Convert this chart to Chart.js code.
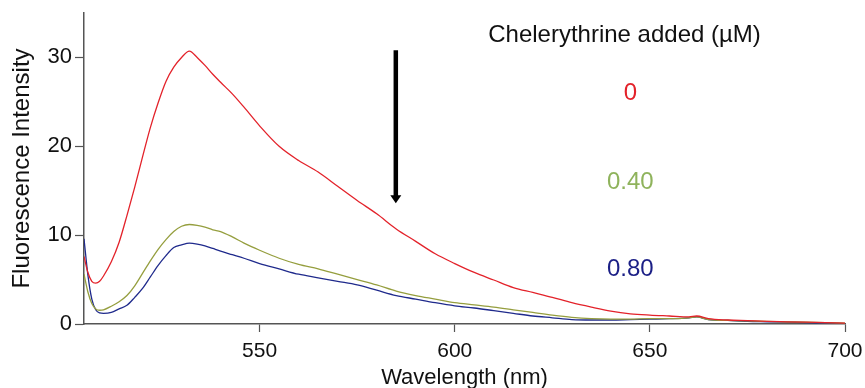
<!DOCTYPE html>
<html>
<head>
<meta charset="utf-8">
<script src="https://cdn.jsdelivr.net/npm/chart.js@4/dist/chart.umd.min.js"></script>
<style>
  html, body { margin: 0; padding: 0; background: #ffffff; }
  #c { display: block; }
</style>
</head>
<body>
<canvas id="c" width="865" height="388"></canvas>
<script>
// ---- data ----
const wavelengths = [505,506,507,508,509,510,512,514,516,518,520,522,524,526,528,530,532,534,536,538,540,543,546,550,555,560,565,570,575,580,585,590,595,600,605,610,615,620,625,630,635,640,645,650,655,660,662,665,670,675,680,685,690,695,700];
const conc0   = [7.6,5.8,4.8,4.6,4.8,5.4,7.0,9.2,12.2,15.4,18.8,22.1,24.9,27.3,28.9,30.0,30.7,30.0,29.1,28.1,27.2,25.9,24.4,22.3,20.0,18.4,17.1,15.5,13.9,12.4,10.7,9.3,7.9,6.8,5.8,4.95,4.1,3.55,3.0,2.4,1.9,1.45,1.15,1.0,0.9,0.8,0.9,0.6,0.45,0.38,0.3,0.25,0.2,0.15,0.1];
const conc040 = [5.6,3.6,2.3,1.7,1.55,1.6,2.0,2.5,3.2,4.3,5.7,7.1,8.4,9.5,10.4,11.0,11.2,11.1,10.9,10.6,10.4,9.8,9.1,8.3,7.4,6.7,6.2,5.6,5.0,4.4,3.7,3.2,2.8,2.4,2.15,1.9,1.6,1.3,1.0,0.75,0.6,0.55,0.55,0.6,0.6,0.7,0.8,0.5,0.4,0.35,0.3,0.25,0.2,0.15,0.1];
const conc080 = [9.6,5.5,2.8,1.6,1.25,1.2,1.3,1.7,2.1,3.0,4.0,5.3,6.6,7.7,8.6,8.9,9.1,9.0,8.8,8.5,8.2,7.8,7.4,6.8,6.2,5.6,5.2,4.8,4.4,3.8,3.2,2.8,2.4,2.05,1.8,1.5,1.2,0.9,0.7,0.5,0.45,0.45,0.5,0.55,0.6,0.7,0.8,0.5,0.4,0.3,0.25,0.2,0.15,0.1,0.05];
const seriesLabels = ['0', '0.40', '0.80'];
const xTickValues = [550, 600, 650, 700];
const yTickValues = [0, 10, 20, 30];
const legendTitle = 'Chelerythrine added (\u00B5M)';
const xTitle = 'Wavelength (nm)';
const yTitle = 'Fluorescence Intensity';

// ---- styles ----
const lineColors  = ['#e3222a', '#959e3e', '#1f2a8c'];
const labelColors = ['#e3222a', '#8fb35c', '#1b1f86'];
const FONT = "'Liberation Sans', Arial, sans-serif";
const AXIS = '#555555';

function toPoints(ys) { return wavelengths.map((x, i) => ({ x: x, y: ys[i] })); }

// annotation placement in data coordinates
const annot = {
  titleAt: { x: 643.5, y: 32.5 },
  labelsAt: [ { x: 645, y: 25.9 }, { x: 645, y: 15.9 }, { x: 645, y: 6.2 } ],
  arrow: { x: 584.9, yFrom: 30.8, yTo: 13.6 }
};

const annotationPlugin = {
  id: 'annotations',
  afterDatasetsDraw(chart) {
    const ctx = chart.ctx;
    const xs = chart.scales.x, ys = chart.scales.y;
    ctx.save();
    ctx.textAlign = 'center';
    ctx.textBaseline = 'middle';
    ctx.font = '24px ' + FONT;
    ctx.fillStyle = '#111111';
    ctx.fillText(legendTitle, xs.getPixelForValue(annot.titleAt.x), ys.getPixelForValue(annot.titleAt.y));
    seriesLabels.forEach((t, i) => {
      ctx.fillStyle = labelColors[i];
      ctx.fillText(t, xs.getPixelForValue(annot.labelsAt[i].x), ys.getPixelForValue(annot.labelsAt[i].y));
    });
    // arrow
    const ax = xs.getPixelForValue(annot.arrow.x);
    const y1 = ys.getPixelForValue(annot.arrow.yFrom);
    const y2 = ys.getPixelForValue(annot.arrow.yTo);
    ctx.strokeStyle = '#000000';
    ctx.fillStyle = '#000000';
    ctx.lineWidth = 4.5;
    ctx.beginPath();
    ctx.moveTo(ax, y1);
    ctx.lineTo(ax, y2 - 7);
    ctx.stroke();
    ctx.beginPath();
    ctx.moveTo(ax - 5.5, y2 - 8);
    ctx.lineTo(ax + 5.5, y2 - 8);
    ctx.lineTo(ax, y2);
    ctx.closePath();
    ctx.fill();
    ctx.restore();
  }
};

new Chart(document.getElementById('c'), {
  type: 'line',
  data: {
    datasets: [
      { label: seriesLabels[0], data: toPoints(conc0),   borderColor: lineColors[0] },
      { label: seriesLabels[1], data: toPoints(conc040), borderColor: lineColors[1] },
      { label: seriesLabels[2], data: toPoints(conc080), borderColor: lineColors[2] }
    ]
  },
  options: {
    responsive: false,
    animation: false,
    devicePixelRatio: 1,
    layout: { padding: { top: 13, right: 20, left: 0, bottom: 0 } },
    elements: {
      point: { radius: 0 },
      line: { borderWidth: 1.3, cubicInterpolationMode: 'monotone', fill: false }
    },
    plugins: { legend: { display: false }, tooltip: { enabled: false } },
    scales: {
      x: {
        type: 'linear',
        min: 505, max: 700,
        afterBuildTicks(s) { s.ticks = xTickValues.map(v => ({ value: v })); },
        afterFit(s) { s.height = 64; s.paddingLeft = 0; s.paddingRight = 0; },
        grid: { drawOnChartArea: false, drawTicks: true, tickLength: 8, color: AXIS, tickColor: AXIS, tickWidth: 1.2 },
        border: { display: true, color: AXIS, width: 1.5 },
        ticks: { font: { family: FONT, size: 21 }, color: '#111111', padding: 7, maxRotation: 0, autoSkip: false },
        title: { display: true, text: xTitle, font: { family: FONT, size: 22, lineHeight: 1.0 }, color: '#111111', padding: { top: 0, bottom: -1 } }
      },
      y: {
        type: 'linear',
        min: 0, max: 35,
        afterBuildTicks(s) { s.ticks = yTickValues.map(v => ({ value: v })); },
        afterFit(s) { s.width = 84; s.paddingTop = 0; s.paddingBottom = 0; },
        grid: { drawOnChartArea: false, drawTicks: true, tickLength: 9, color: AXIS, tickColor: AXIS, tickWidth: 1.2 },
        border: { display: true, color: AXIS, width: 1.5 },
        ticks: { font: { family: FONT, size: 22 }, color: '#111111', padding: 3, autoSkip: false },
        title: { display: true, text: yTitle, font: { family: FONT, size: 24, lineHeight: 1.2 }, color: '#111111', padding: { top: 8, bottom: 0 } }
      }
    }
  },
  plugins: [annotationPlugin]
});
</script>
</body>
</html>
